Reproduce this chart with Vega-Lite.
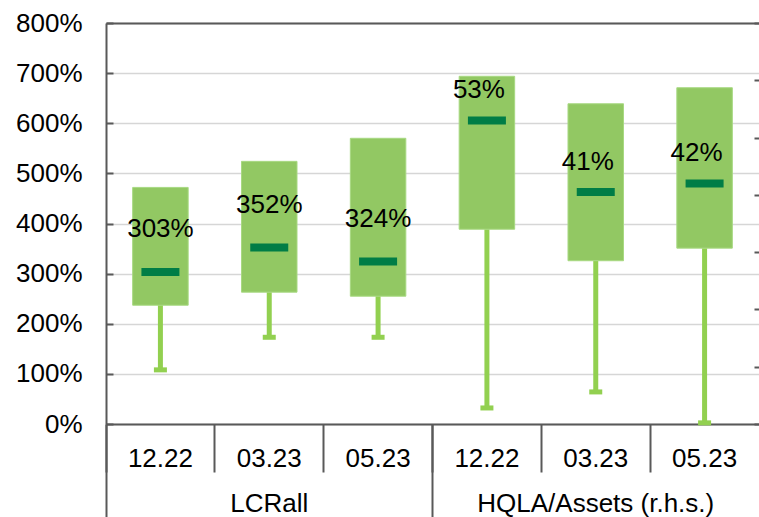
{
  "$schema": "https://vega.github.io/schema/vega-lite/v6.json",
  "width": 653,
  "height": 401,
  "autosize": {"type": "none"},
  "padding": {"left": 106, "top": 23, "right": 0, "bottom": 93},
  "config": {"font": "Liberation Sans", "view": {"stroke": null}},
  "data": {
    "values": [
      {"group": "LCRall", "key": "LCRall|12.22", "q1": 2.37, "q3": 4.72, "median": 3.03, "min": 1.08, "label": "303%"},
      {"group": "LCRall", "key": "LCRall|03.23", "q1": 2.63, "q3": 5.24, "median": 3.52, "min": 1.73, "label": "352%"},
      {"group": "LCRall", "key": "LCRall|05.23", "q1": 2.55, "q3": 5.70, "median": 3.24, "min": 1.73, "label": "324%"},
      {"group": "HQLA/Assets (r.h.s.)", "key": "HQLA|12.22", "q1": 0.340, "q3": 0.607, "median": 0.53, "min": 0.028, "label": "53%"},
      {"group": "HQLA/Assets (r.h.s.)", "key": "HQLA|03.23", "q1": 0.285, "q3": 0.559, "median": 0.405, "min": 0.056, "label": "41%"},
      {"group": "HQLA/Assets (r.h.s.)", "key": "HQLA|05.23", "q1": 0.307, "q3": 0.587, "median": 0.42, "min": 0.002, "label": "42%"}
    ]
  },
  "layer": [
    {
      "transform": [{"filter": "datum.group === 'LCRall'"}],
      "encoding": {
        "x": {
          "field": "key", "type": "nominal", "sort": null,
          "scale": {"domain": ["LCRall|12.22", "LCRall|03.23", "LCRall|05.23", "HQLA|12.22", "HQLA|03.23", "HQLA|05.23"], "paddingInner": 0, "paddingOuter": 0},
          "axis": {
            "title": null, "orient": "bottom", "grid": false,
            "domainColor": "#595959", "domainWidth": 2,
            "bandPosition": 0, "ticks": true, "tickSize": 48, "tickColor": "#595959", "tickWidth": 2,
            "labelExpr": "split(datum.value, '|')[1]", "labelAngle": 0, "labelOverlap": false, "labelLimit": 0,
            "labelOffset": 0, "labelPadding": -27, "labelFontSize": 26, "labelColor": "#000000", "labelFont": "Liberation Sans"
          }
        }
      },
      "layer": [
        {
          "mark": {"type": "rule", "color": "#92D050", "strokeWidth": 5},
          "encoding": {
            "y": {
              "field": "min", "type": "quantitative",
              "scale": {"domain": [0, 8], "nice": false, "zero": true},
              "axis": {
                "title": null, "orient": "left", "format": ".0%", "values": [0, 1, 2, 3, 4, 5, 6, 7, 8],
                "grid": true, "gridColor": "#d6d6d6", "gridWidth": 1.5,
                "domainColor": "#595959", "domainWidth": 2,
                "tickSize": -7, "tickColor": "#595959", "tickWidth": 2,
                "labelPadding": 31, "labelFontSize": 26, "labelColor": "#000000", "labelFont": "Liberation Sans"
              }
            },
            "y2": {"field": "q1"}
          }
        },
        {
          "mark": {"type": "tick", "color": "#92D050", "size": 13, "thickness": 5, "opacity": 1},
          "encoding": {"y": {"field": "min", "type": "quantitative", "title": null}}
        },
        {
          "mark": {"type": "bar", "color": "#92C863", "stroke": "#a8d982", "strokeWidth": 1, "width": {"band": 0.51}},
          "encoding": {"y": {"field": "q3", "type": "quantitative", "title": null}, "y2": {"field": "q1"}}
        },
        {
          "mark": {"type": "tick", "color": "#007D46", "size": 38, "thickness": 8, "opacity": 1},
          "encoding": {"y": {"field": "median", "type": "quantitative", "title": null}}
        },
        {
          "mark": {"type": "text", "fontSize": 26, "color": "#000000", "baseline": "middle", "align": "center", "dy": -43},
          "encoding": {"y": {"field": "median", "type": "quantitative", "title": null}, "text": {"field": "label"}}
        }
      ]
    },
    {
      "transform": [{"filter": "datum.group !== 'LCRall'"}],
      "encoding": {
        "x": {
          "field": "key", "type": "nominal", "sort": null,
          "scale": {"domain": ["LCRall|12.22", "LCRall|03.23", "LCRall|05.23", "HQLA|12.22", "HQLA|03.23", "HQLA|05.23"], "paddingInner": 0, "paddingOuter": 0},
          "axis": {"title": null, "orient": "top", "labels": false, "ticks": false, "grid": false, "domain": true, "domainColor": "#595959", "domainWidth": 2}
        }
      },
      "layer": [
        {
          "mark": {"type": "rule", "color": "#92D050", "strokeWidth": 5},
          "encoding": {
            "y": {
              "field": "min", "type": "quantitative",
              "scale": {"domain": [0, 0.7], "nice": false, "zero": true},
              "axis": {
                "title": null, "orient": "right", "labels": false, "domain": false, "grid": false,
                "values": [0, 0.1, 0.2, 0.3, 0.4, 0.5, 0.6, 0.7],
                "tickSize": -5, "tickColor": "#595959", "tickWidth": 2
              }
            },
            "y2": {"field": "q1"}
          }
        },
        {
          "mark": {"type": "tick", "color": "#92D050", "size": 13, "thickness": 5, "opacity": 1},
          "encoding": {"y": {"field": "min", "type": "quantitative", "title": null}}
        },
        {
          "mark": {"type": "bar", "color": "#92C863", "stroke": "#a8d982", "strokeWidth": 1, "width": {"band": 0.51}},
          "encoding": {"y": {"field": "q3", "type": "quantitative", "title": null}, "y2": {"field": "q1"}}
        },
        {
          "mark": {"type": "tick", "color": "#007D46", "size": 38, "thickness": 8, "opacity": 1},
          "encoding": {"y": {"field": "median", "type": "quantitative", "title": null}}
        },
        {
          "mark": {"type": "text", "fontSize": 26, "color": "#000000", "baseline": "middle", "align": "center", "dy": -30, "dx": -8},
          "encoding": {"y": {"field": "median", "type": "quantitative", "title": null}, "text": {"field": "label"}}
        }
      ]
    },
    {
      "mark": {"type": "bar", "opacity": 0},
      "encoding": {
        "x": {
          "field": "group", "type": "nominal", "sort": null,
          "scale": {"domain": ["LCRall", "HQLA/Assets (r.h.s.)"], "paddingInner": 0, "paddingOuter": 0},
          "axis": {
            "title": null, "orient": "bottom", "domain": false, "grid": false,
            "bandPosition": 0, "ticks": true, "tickSize": 93, "tickColor": "#595959", "tickWidth": 2,
            "labelAngle": 0, "labelOverlap": false, "labelLimit": 0, "labelOffset": 0, "labelPadding": -27,
            "labelFontSize": 26, "labelColor": "#000000", "labelFont": "Liberation Sans"
          }
        }
      }
    }
  ],
  "resolve": {"scale": {"x": "independent", "y": "independent"}, "axis": {"x": "independent", "y": "independent"}}
}
